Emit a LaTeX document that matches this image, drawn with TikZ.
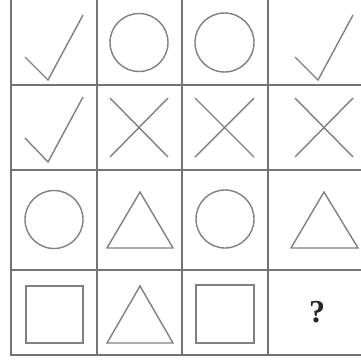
\documentclass[tikz,border=0pt]{standalone}
\usepackage{fontspec}
\setmainfont{Liberation Serif}
\begin{document}
\begin{tikzpicture}[x=1pt,y=-1pt,
  gridline/.style={draw=black!55,line width=1.7pt},
  figline/.style={draw=black!50,line width=1.4pt,line join=miter},
  qmark/.style={font=\fontsize{32}{32}\selectfont\bfseries,text=black!85,inner sep=0pt}]
\useasboundingbox (0,0) rectangle (361,360);
\fill[white] (0,0) rectangle (361,360);
% grid
\foreach \x in {11,97,182,268} \draw[gridline] (\x,0) -- (\x,355);
\foreach \y in {85,170,270,355} \draw[gridline] (10,\y) -- (361,\y);
% row 1
\draw[figline] (25,57) -- (48,80) -- (83,15);
\draw[figline] (139,42.5) circle (29);
\draw[figline] (224.5,42.5) circle (29.5);
\draw[figline] (295,57) -- (318,80) -- (353,15);
% row 2
\draw[figline] (25,138) -- (48,162) -- (83,97);
\draw[figline] (110,98) -- (168,157) (110,157) -- (168,98);
\draw[figline] (195,98) -- (254,157) (195,157) -- (254,98);
\draw[figline] (295,98) -- (353,157) (295,157) -- (353,98);
% row 3
\draw[figline] (54,219.5) circle (29);
\draw[figline] (140,192) -- (173,248) -- (107,248) -- cycle;
\draw[figline] (225,219) circle (29);
\draw[figline] (324,192) -- (358,248) -- (291,248) -- cycle;
% row 4
\draw[figline] (26,286) rectangle (83,343);
\draw[figline] (140,286) -- (173,343) -- (107,343) -- cycle;
\draw[figline] (196,285) rectangle (254,343);
\node[qmark] (q) at (317,312) {?};
\end{tikzpicture}
\end{document}
